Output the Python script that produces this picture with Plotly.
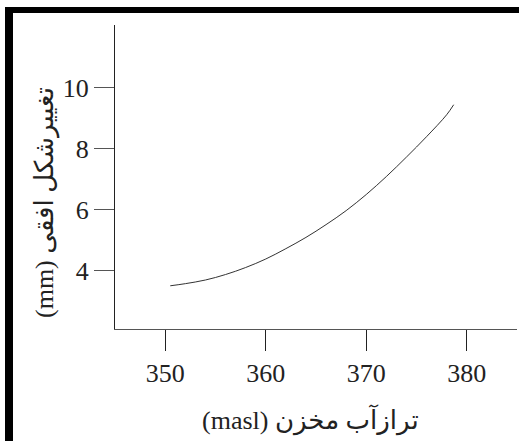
import plotly.graph_objects as go

# data
water_level = [350.5, 352, 354, 356, 358, 360, 362, 364, 366, 368, 370, 372, 374, 376, 378, 378.7]
deformation = [3.50, 3.57, 3.69, 3.87, 4.10, 4.38, 4.72, 5.09, 5.51, 5.97, 6.50, 7.09, 7.73, 8.40, 9.12, 9.45]
x_ticks = [350, 360, 370, 380]
y_ticks = [4, 6, 8, 10]

x_title = "(masl) ترازآب مخزن"
y_title = "(mm) تغییرشکل افقی"

W, H = 519, 441
L, R, T, B = 115, 2, 25, 112
pw, ph = W - L - R, H - T - B

def px(xp):
    return (xp - L) / pw

def py(yp):
    return (H - B - yp) / ph

font_fam = "Liberation Serif, DejaVu Serif, DejaVu Sans, serif"

fig = go.Figure()
fig.add_trace(go.Scatter(
    x=water_level, y=deformation, mode="lines",
    line=dict(color="#333333", width=1, shape="spline", smoothing=1.0),
    showlegend=False, hoverinfo="skip"))

fig.update_layout(
    width=W, height=H,
    margin=dict(l=L, r=R, t=T, b=B, pad=0),
    paper_bgcolor="white", plot_bgcolor="white",
    font=dict(family=font_fam, size=25, color="#222222"),
    xaxis=dict(range=[345, 385], tickvals=x_ticks, ticks="outside", ticklen=21,
               tickcolor="#222222", tickwidth=1, showline=True, linecolor="#555555",
               linewidth=1, showgrid=False, zeroline=False,
               tickfont=dict(family=font_fam, size=26, color="#222222")),
    yaxis=dict(range=[2.08, 12.07], tickvals=y_ticks, ticks="outside", ticklen=20,
               tickcolor="#555555", tickwidth=1, showline=True, linecolor="#222222",
               linewidth=1, showgrid=False, zeroline=False,
               tickfont=dict(family=font_fam, size=26, color="#222222")),
    shapes=[
        dict(type="rect", xref="paper", yref="paper", x0=px(5), x1=px(519), y0=py(13), y1=py(7),
             fillcolor="black", line=dict(width=0)),
        dict(type="rect", xref="paper", yref="paper", x0=px(5), x1=px(13), y0=py(441), y1=py(7),
             fillcolor="black", line=dict(width=0)),
    ],
    annotations=[
        dict(text=x_title, xref="paper", yref="paper", x=px(310), y=py(420),
             showarrow=False, xanchor="center", yanchor="middle",
             font=dict(family=font_fam, size=26, color="#222222")),
        dict(text=y_title, xref="paper", yref="paper", x=px(45), y=py(203),
             showarrow=False, xanchor="center", yanchor="middle", textangle=-90,
             font=dict(family=font_fam, size=26, color="#222222")),
    ],
)

fig.write_html("out.html", config={"displayModeBar": False},
               post_script="document.body.style.margin='0';document.body.style.overflow='hidden';")
